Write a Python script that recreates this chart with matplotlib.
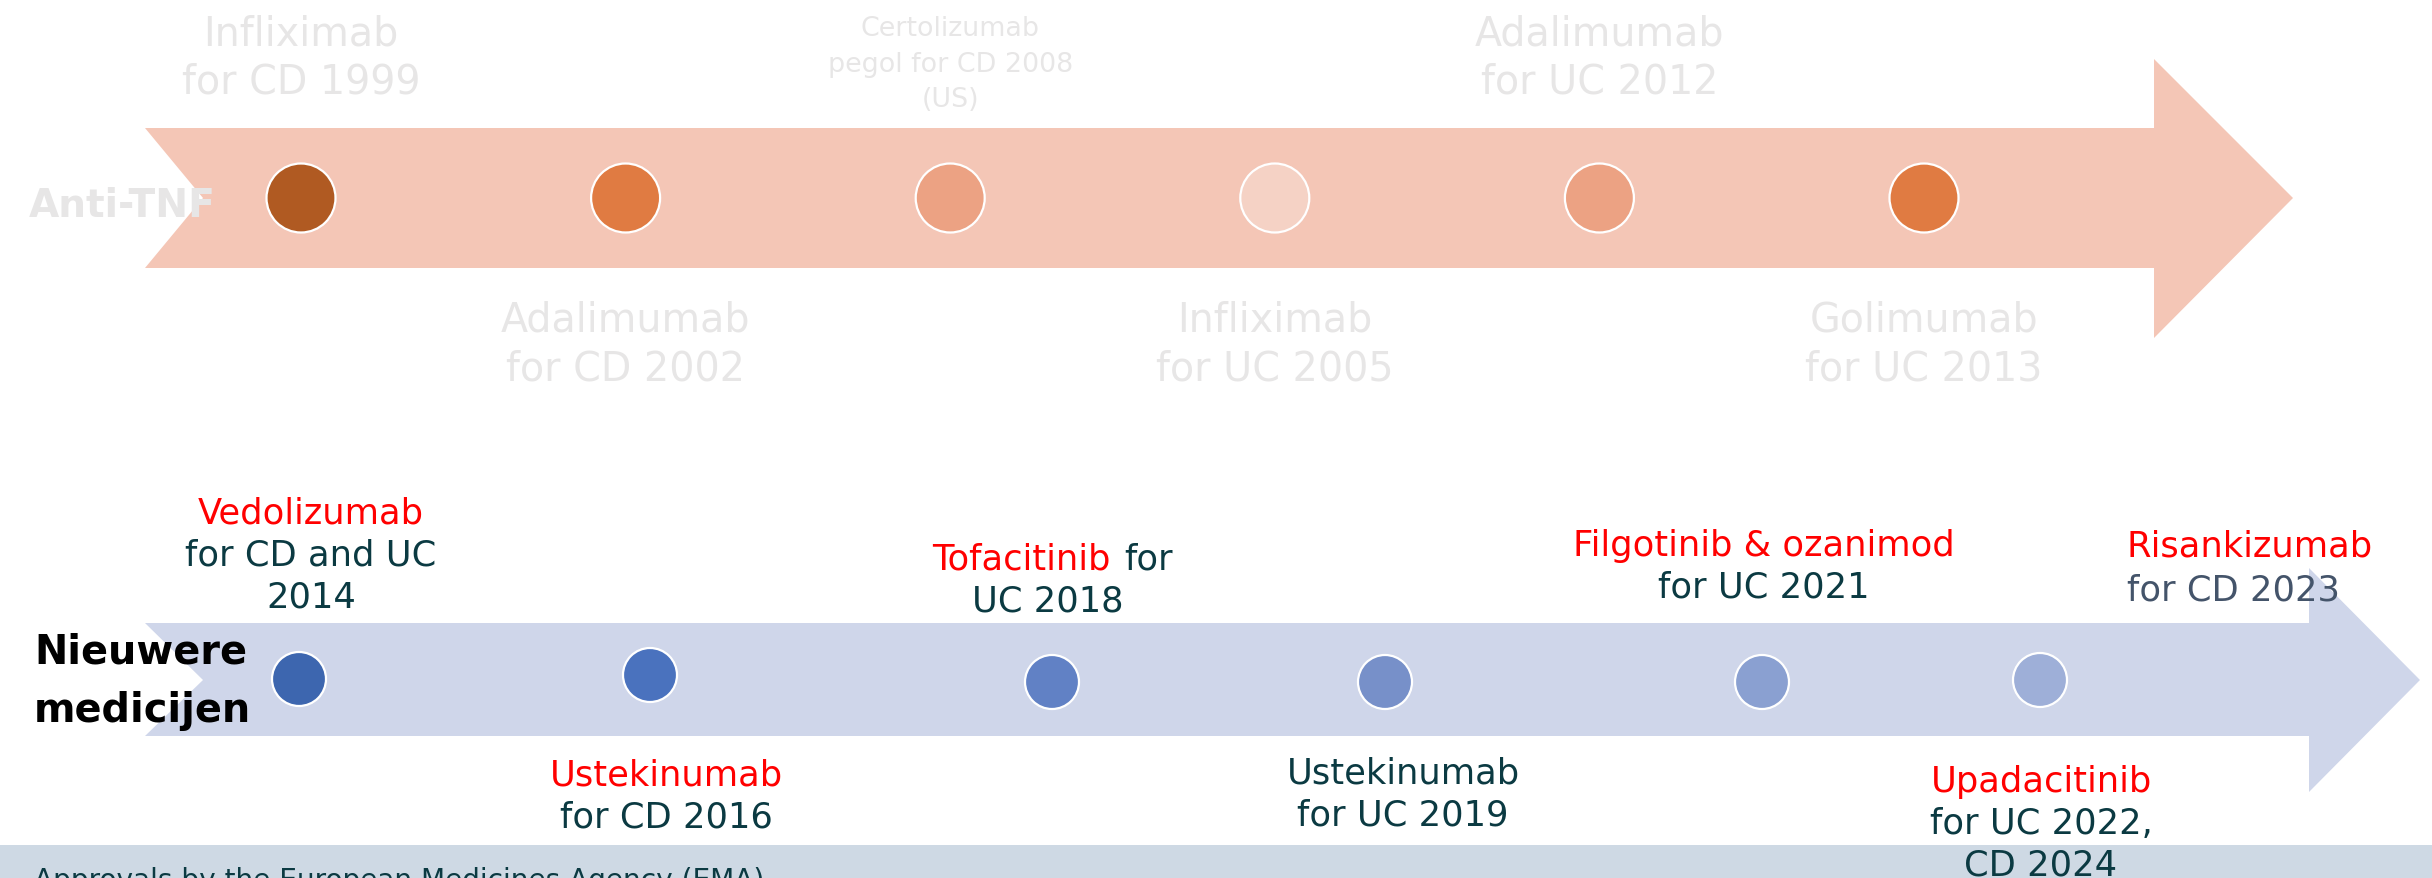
import matplotlib
matplotlib.use("Agg")
import matplotlib.pyplot as plt
from matplotlib.patches import Polygon, Circle, Rectangle

plt.rcParams['font.family'] = ['DejaVu Sans']

W, H = 2432, 879

# anti-TNF approvals (top arrow), in timeline order
tnf_labels = ["Infliximab\nfor CD 1999", "Adalimumab\nfor CD 2002",
              "Certolizumab\npegol for CD 2008\n(US)", "Infliximab\nfor UC 2005",
              "Adalimumab\nfor UC 2012", "Golimumab\nfor UC 2013"]
tnf_above = [True, False, True, False, True, False]
tnf_colors = ["#B05A22", "#E07B42", "#ECA283", "#F5D2C5", "#ECA283", "#E07B42"]

# newer drugs (bottom arrow): red drug name, dark rest
new_names = ["Vedolizumab", "Ustekinumab", "Tofacitinib", "Ustekinumab",
             "Filgotinib & ozanimod", "Upadacitinib", "Risankizumab"]
new_rest = ["for CD and UC\n2014", "for CD 2016", "for\nUC 2018", "for UC 2019",
            "for UC 2021", "for UC 2022,\nCD 2024", "for CD 2023"]
new_x = [299, 650, 1052, 1385, 1762, 2040]   # marker positions along the arrow
new_y = [680, 676, 683, 683, 683, 681]
new_colors = ["#3D66AF", "#4A72BE", "#6181C5", "#7790C9", "#8AA0D1", "#9EAFD8"]

RED = "#FF0000"
DARK = "#0B3A42"
GREY = "#E7E6E6"

fig = plt.figure(figsize=(W / 100, H / 100), dpi=100)
ax = fig.add_axes([0, 0, 1, 1])
ax.set_xlim(0, W)
ax.set_ylim(H, 0)
ax.axis('off')

# arrows
top_y, bot_y = 199, 681
ax.add_patch(Polygon([(145, 129), (2154, 129), (2154, 60), (2293, top_y), (2154, 339),
                      (2154, 269), (145, 269), (203, top_y)], closed=True,
                     facecolor="#F4C6B6", edgecolor='none', zorder=1))
ax.add_patch(Polygon([(145, 624), (2309, 624), (2309, 569), (2420, bot_y), (2309, 793),
                      (2309, 737), (145, 737), (203, bot_y)], closed=True,
                     facecolor="#CFD6EA", edgecolor='none', zorder=1))

# footer band (text is cut by the bottom edge, as in the slide)
ax.add_patch(Rectangle((0, 846), W, 40, facecolor="#CED9E4", edgecolor='none', zorder=1))
ax.text(34, 889, "Approvals by the European Medicines Agency (EMA)", fontsize=20.2,
        color=DARK, ha='left', va='baseline', zorder=3)

# top row
step = (1924 - 301) / (len(tnf_labels) - 1)
for i, (lab, up, c) in enumerate(zip(tnf_labels, tnf_above, tnf_colors)):
    x = 301 + i * step
    ax.add_patch(Circle((x, top_y), 34.5, facecolor=c, edgecolor='white', lw=1.6, zorder=2))
    lines = lab.split("\n")
    if len(lines) == 3:
        fs, gap, y0 = 19.4, 35.5, 36
    else:
        fs, gap, y0 = 28.5, 48.5, 45 if up else 332
    for k, ln in enumerate(lines):
        ax.text(x, y0 + k * gap, ln, fontsize=fs, color=GREY, ha='center', va='baseline', zorder=3)

ax.text(29, 217, "Anti-TNF", fontsize=28.2, fontweight='bold', color=GREY,
        ha='left', va='baseline', zorder=3)

# bottom row markers
for x, y, c in zip(new_x, new_y, new_colors):
    ax.add_patch(Circle((x, y), 27, facecolor=c, edgecolor='white', lw=1.6, zorder=2))

fs2, gap2 = 25.4, 41.8
# Vedolizumab
ax.text(311, 524, new_names[0], fontsize=fs2, color=RED, ha='center', va='baseline', zorder=3)
for k, ln in enumerate(new_rest[0].split("\n")):
    ax.text(311, 524 + (k + 1) * gap2, ln, fontsize=fs2, color=DARK, ha='center', va='baseline', zorder=3)
# Ustekinumab CD
ax.text(666, 786, new_names[1], fontsize=fs2, color=RED, ha='center', va='baseline', zorder=3)
ax.text(666, 786 + gap2, new_rest[1], fontsize=fs2, color=DARK, ha='center', va='baseline', zorder=3)
# Tofacitinib
r1, r2 = new_rest[2].split("\n")
ax.text(1111, 570, new_names[2], fontsize=fs2, color=RED, ha='right', va='baseline', zorder=3)
ax.text(1124, 570, r1, fontsize=fs2, color=DARK, ha='left', va='baseline', zorder=3)
ax.text(1048, 570 + gap2, r2, fontsize=fs2, color=DARK, ha='center', va='baseline', zorder=3)
# Ustekinumab UC
ax.text(1403, 784, new_names[3], fontsize=fs2, color=DARK, ha='center', va='baseline', zorder=3)
ax.text(1403, 784 + gap2, new_rest[3], fontsize=fs2, color=DARK, ha='center', va='baseline', zorder=3)
# Filgotinib & ozanimod
ax.text(1764, 556, new_names[4], fontsize=fs2, color=RED, ha='center', va='baseline', zorder=3)
ax.text(1764, 556 + gap2, new_rest[4], fontsize=fs2, color=DARK, ha='center', va='baseline', zorder=3)
# Upadacitinib
ax.text(2041, 792, new_names[5], fontsize=fs2, color=RED, ha='center', va='baseline', zorder=3)
for k, ln in enumerate(new_rest[5].split("\n")):
    ax.text(2041, 792 + (k + 1) * gap2, ln, fontsize=fs2, color=DARK, ha='center', va='baseline', zorder=3)
# Risankizumab
ax.text(2127, 557, new_names[6], fontsize=fs2, color=RED, ha='left', va='baseline', zorder=3)
ax.text(2127, 601, new_rest[6], fontsize=fs2, color="#44546A", ha='left', va='baseline', zorder=3)

ax.text(34, 664, "Nieuwere", fontsize=28.7, fontweight='bold', color='black', ha='left', va='baseline', zorder=3)
ax.text(34, 722, "medicijen", fontsize=28.7, fontweight='bold', color='black', ha='left', va='baseline', zorder=3)

fig.savefig("out.png", dpi=100, facecolor='white')
